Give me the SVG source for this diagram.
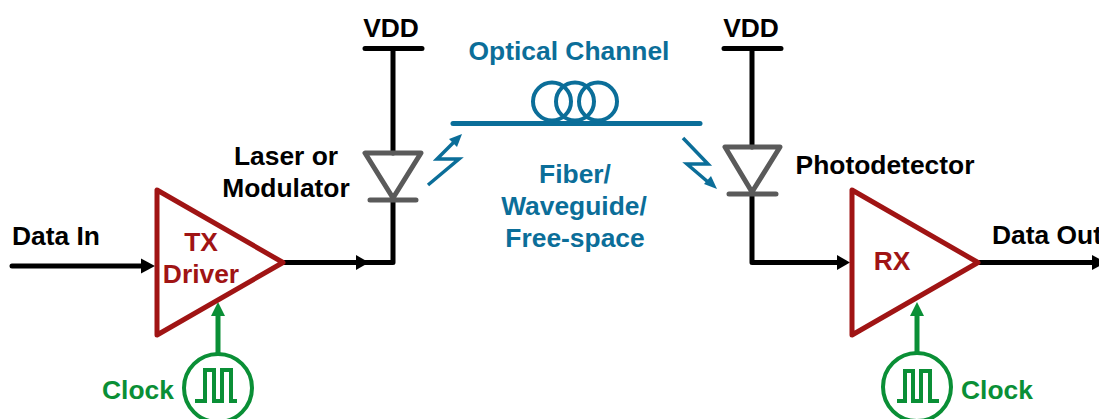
<svg xmlns="http://www.w3.org/2000/svg" width="1099" height="419" viewBox="0 0 1099 419">
<style>
text{font-family:"Liberation Sans",Arial,sans-serif;font-weight:700;font-size:26.4px;text-anchor:middle}
.k{fill:#000}.b{fill:#0b6e99}.r{fill:#a01414}.g{fill:#0a8f36}
.w{fill:none;stroke:#000;stroke-width:5;stroke-linecap:round;stroke-linejoin:round}
.d{fill:none;stroke:#5a5a5a;stroke-width:5;stroke-linecap:round;stroke-linejoin:round}
.a{fill:none;stroke:#a01414;stroke-width:5;stroke-linejoin:round}
.c{fill:none;stroke:#0a8f36;stroke-width:4}
.s{fill:none;stroke:#0a8f36;stroke-width:5}
.f{fill:none;stroke:#0b6e99;stroke-width:4}
.l{fill:none;stroke:#0b6e99;stroke-width:3.500;stroke-linejoin:miter}
</style>
<g id="connectors">
<path class="w" d="M12 266H146"/><path d="M155 266L141 258.500V273.500Z"/>
<path class="w" d="M283 262.500H393V200"/><path d="M369 262.500L356 255V270Z"/>
<path class="w" d="M393 153V48.500M365 48.500H422"/>
<path class="w" d="M752 147V48.500M724 48.500H781"/>
<path class="w" d="M752 194V262.500H840"/><path d="M850 262.500L837 255V270Z"/>
<path class="w" d="M978 262.500H1095"/><path d="M1106 262.500L1092 255V270Z"/>
<path class="s" d="M218 354V312"/><path class="g" d="M218 302L211 316H225Z"/>
<path class="s" d="M917 353V312"/><path class="g" d="M917 302L910 316H924Z"/>
</g>
<g id="tx-driver">
<path class="a" d="M157 190V335L283 262.500Z"/>
<text class="r" x="201" y="251">TX</text>
<text class="r" x="201" y="283">Driver</text>
</g>
<g id="rx">
<path class="a" d="M852 190V335L978 262.500Z"/>
<text class="r" x="892" y="270">RX</text>
</g>
<g id="data-in"><text class="k" x="56" y="245">Data In</text></g>
<g id="data-out"><text class="k" x="1047" y="244">Data Out</text></g>
<g id="vdd-left"><text class="k" x="391" y="37">VDD</text></g>
<g id="vdd-right"><text class="k" x="751" y="37">VDD</text></g>
<g id="laser">
<path class="d" d="M365 153H421L393 198ZM370 200H416"/>
<text class="k" x="286" y="165">Laser or</text>
<text class="k" x="286" y="197">Modulator</text>
</g>
<g id="photodetector">
<path class="d" d="M725 147H780L752 192ZM729 194H776"/>
<text class="k" x="885" y="174">Photodetector</text>
</g>
<g id="optical-channel">
<text class="b" x="569" y="60">Optical Channel</text>
<path d="M453 123.500H700" style="fill:none;stroke:#0b6e99;stroke-width:5;stroke-linecap:round"/>
<circle class="f" cx="552" cy="101.500" r="19"/>
<circle class="f" cx="575" cy="101.500" r="19"/>
<circle class="f" cx="598" cy="101.500" r="19"/>
<text class="b" x="575" y="183">Fiber/</text>
<text class="b" x="574" y="215">Waveguide/</text>
<text class="b" x="575" y="247">Free-space</text>
</g>
<g id="light-left">
<path class="l" d="M428 185L459 159H437L456 140"/><path class="b" d="M462 134L449 139L457 147Z"/>
</g>
<g id="light-right">
<path class="l" d="M683 138L708 164H687L708 182"/><path class="b" d="M717 189L704 184L711 176Z"/>
</g>
<g id="clock-tx">
<circle class="c" cx="218" cy="388" r="34"/>
<path class="c" d="M195 401H205V370H214V401H222V370H231V401H237"/>
<text class="g" x="138" y="399">Clock</text>
</g>
<g id="clock-rx">
<circle class="c" cx="917" cy="387" r="34"/>
<path class="c" d="M897 401H905V371H913V401H921V371H930V401H939"/>
<text class="g" x="997" y="399">Clock</text>
</g>
</svg>
